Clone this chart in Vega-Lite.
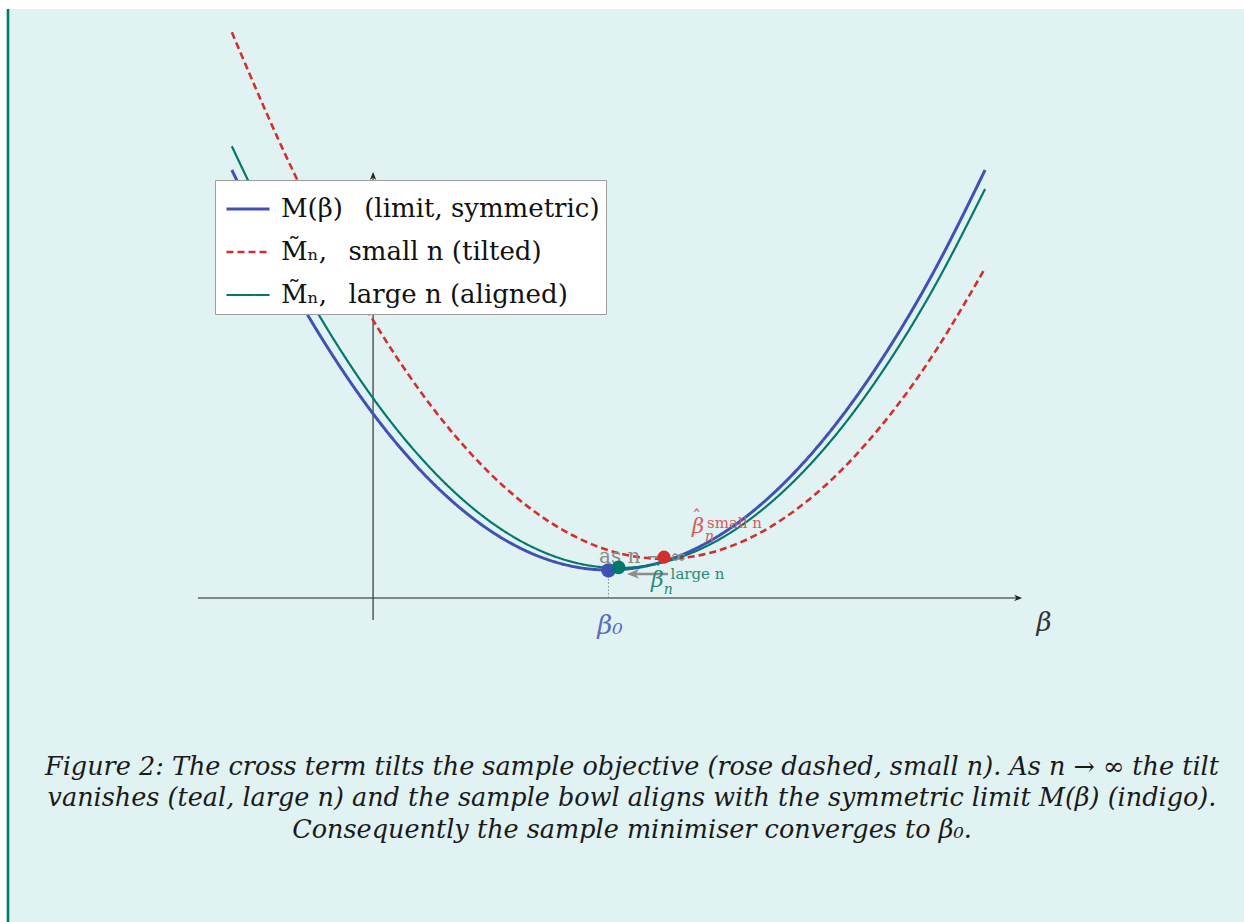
{
  "$schema": "https://vega.github.io/schema/vega-lite/v6.json",
  "width": 1235,
  "height": 913,
  "autosize": {"type": "none"},
  "padding": {"left": 9, "top": 9, "right": 0, "bottom": 0},
  "background": "#ffffff",
  "config": {"view": {"fill": "#e0f2f1", "stroke": null}},
  "datasets": {
    "curves": [
      {"x": -0.9, "y": 2.727, "series": "limit"},
      {"x": -0.6, "y": 2.129, "series": "limit"},
      {"x": -0.3, "y": 1.612, "series": "limit"},
      {"x": 0.0, "y": 1.174, "series": "limit"},
      {"x": 0.3, "y": 0.815, "series": "limit"},
      {"x": 0.6, "y": 0.536, "series": "limit"},
      {"x": 0.9, "y": 0.337, "series": "limit"},
      {"x": 1.2, "y": 0.218, "series": "limit"},
      {"x": 1.5, "y": 0.178, "series": "limit"},
      {"x": 1.8, "y": 0.218, "series": "limit"},
      {"x": 2.1, "y": 0.337, "series": "limit"},
      {"x": 2.4, "y": 0.536, "series": "limit"},
      {"x": 2.7, "y": 0.815, "series": "limit"},
      {"x": 3.0, "y": 1.174, "series": "limit"},
      {"x": 3.3, "y": 1.612, "series": "limit"},
      {"x": 3.6, "y": 2.129, "series": "limit"},
      {"x": 3.9, "y": 2.727, "series": "limit"},
      {"x": -0.9, "y": 3.605, "series": "small"},
      {"x": -0.6, "y": 2.914, "series": "small"},
      {"x": -0.3, "y": 2.302, "series": "small"},
      {"x": 0.0, "y": 1.770, "series": "small"},
      {"x": 0.3, "y": 1.318, "series": "small"},
      {"x": 0.6, "y": 0.945, "series": "small"},
      {"x": 0.9, "y": 0.652, "series": "small"},
      {"x": 1.2, "y": 0.438, "series": "small"},
      {"x": 1.5, "y": 0.304, "series": "small"},
      {"x": 1.8, "y": 0.250, "series": "small"},
      {"x": 2.1, "y": 0.276, "series": "small"},
      {"x": 2.4, "y": 0.381, "series": "small"},
      {"x": 2.7, "y": 0.566, "series": "small"},
      {"x": 3.0, "y": 0.830, "series": "small"},
      {"x": 3.3, "y": 1.174, "series": "small"},
      {"x": 3.6, "y": 1.598, "series": "small"},
      {"x": 3.9, "y": 2.101, "series": "small"},
      {"x": -0.9, "y": 2.878, "series": "large"},
      {"x": -0.6, "y": 2.263, "series": "large"},
      {"x": -0.3, "y": 1.728, "series": "large"},
      {"x": 0.0, "y": 1.273, "series": "large"},
      {"x": 0.3, "y": 0.898, "series": "large"},
      {"x": 0.6, "y": 0.602, "series": "large"},
      {"x": 0.9, "y": 0.386, "series": "large"},
      {"x": 1.2, "y": 0.250, "series": "large"},
      {"x": 1.5, "y": 0.193, "series": "large"},
      {"x": 1.8, "y": 0.216, "series": "large"},
      {"x": 2.1, "y": 0.318, "series": "large"},
      {"x": 2.4, "y": 0.500, "series": "large"},
      {"x": 2.7, "y": 0.762, "series": "large"},
      {"x": 3.0, "y": 1.103, "series": "large"},
      {"x": 3.3, "y": 1.525, "series": "large"},
      {"x": 3.6, "y": 2.025, "series": "large"},
      {"x": 3.9, "y": 2.606, "series": "large"}
    ],
    "minimisers": [
      {"x": 1.5, "y": 0.175, "series": "limit"},
      {"x": 1.564, "y": 0.195, "series": "large"},
      {"x": 1.854, "y": 0.26, "series": "small"}
    ]
  },
  "encoding": {
    "x": {"field": "x", "type": "quantitative", "scale": {"domain": [-2.32, 5.55], "nice": false, "zero": false}, "axis": null},
    "y": {"field": "y", "type": "quantitative", "scale": {"domain": [-2.065, 3.753], "nice": false, "zero": false}, "axis": null}
  },
  "layer": [
    {
      "data": {"values": [{"x": -2.3265, "y": -2.065, "y2": 3.753}]},
      "mark": {"type": "rule", "color": "#00796b", "strokeWidth": 2.6},
      "encoding": {"y2": {"field": "y2"}}
    },
    {
      "data": {"values": [{"x": -1.116, "x2": 4.11, "y": 0}]},
      "mark": {"type": "rule", "color": "#5a6666", "strokeWidth": 1.6},
      "encoding": {"x2": {"field": "x2"}}
    },
    {
      "data": {"values": [{"x": 4.136, "y": 0}]},
      "mark": {"type": "point", "shape": "M0,0L-2,-0.8L-1.4,0L-2,0.8Z", "size": 64, "filled": true, "color": "#222222", "opacity": 1, "strokeWidth": 0},
      "encoding": {}
    },
    {
      "data": {"values": [{"x": 0, "y": -0.14, "y2": 2.70}]},
      "mark": {"type": "rule", "color": "#333333", "strokeWidth": 1.2},
      "encoding": {"y2": {"field": "y2"}}
    },
    {
      "data": {"values": [{"x": 0, "y": 2.715}]},
      "mark": {"type": "point", "shape": "M0,0L-0.8,2L0,1.4L0.8,2Z", "size": 64, "filled": true, "color": "#222222", "opacity": 1, "strokeWidth": 0},
      "encoding": {}
    },
    {
      "data": {"values": [{"x": 1.5, "y": 0, "y2": 0.178}]},
      "mark": {"type": "rule", "color": "#7a8a8a", "strokeWidth": 1, "strokeDash": [1.5, 2]},
      "encoding": {"y2": {"field": "y2"}}
    },
    {
      "data": {"name": "curves"},
      "mark": {"type": "line", "interpolate": "natural"},
      "encoding": {
        "color": {
          "field": "series",
          "type": "nominal",
          "scale": {"domain": ["limit", "small", "large"], "range": ["#3f51b5", "#d32f2f", "#00796b"]},
          "legend": {
            "title": null,
            "orient": "none",
            "legendX": 206,
            "legendY": 171,
            "symbolType": "stroke",
            "symbolSize": 1849,
            "labelFont": "DejaVu Serif",
            "labelFontSize": 26,
            "labelColor": "#111111",
            "labelLimit": 0,
            "labelOffset": 10,
            "fillColor": "#ffffff",
            "strokeColor": "#9e9e9e",
            "padding": 6,
            "symbolOffset": 4,
            "rowPadding": 7,
            "labelExpr": "datum.label == 'limit' ? 'M(β)\u2002 (limit, symmetric)' : datum.label == 'small' ? 'M\u0303ₙ,\u2002 small n (tilted)' : 'M\u0303ₙ,\u2002 large n (aligned)'"
          }
        },
        "strokeDash": {
          "field": "series",
          "type": "nominal",
          "scale": {"domain": ["limit", "small", "large"], "range": [[1, 0], [7, 4], [1, 0]]}
        },
        "strokeWidth": {
          "field": "series",
          "type": "nominal",
          "scale": {"domain": ["limit", "small", "large"], "range": [3, 2.2, 2]}
        }
      }
    },
    {
      "data": {"values": [{"x": 1.44, "y": 0.223, "text": "as n → ∞"}]},
      "mark": {"type": "text", "align": "left", "baseline": "alphabetic", "font": "DejaVu Serif", "fontSize": 20, "color": "#8a8a8a"},
      "encoding": {"text": {"field": "text"}}
    },
    {
      "data": {"values": [{"x": 1.66, "x2": 1.879, "y": 0.153}]},
      "mark": {"type": "rule", "color": "#8c8c8c", "strokeWidth": 2.6},
      "encoding": {"x2": {"field": "x2"}}
    },
    {
      "data": {"values": [{"x": 1.618, "y": 0.153}]},
      "mark": {"type": "point", "shape": "M0,0L2,-0.8L1.4,0L2,0.8Z", "size": 150, "filled": true, "color": "#8c8c8c", "opacity": 1, "strokeWidth": 0},
      "encoding": {}
    },
    {
      "data": {"name": "minimisers"},
      "mark": {"type": "point", "filled": true, "opacity": 1, "strokeWidth": 0},
      "encoding": {
        "fill": {
          "field": "series",
          "type": "nominal",
          "scale": {"domain": ["limit", "large", "small"], "range": ["#3f51b5", "#00796b", "#d32f2f"]},
          "legend": null
        },
        "size": {
          "field": "series",
          "type": "nominal",
          "scale": {"domain": ["limit", "large", "small"], "range": [210, 170, 150]},
          "legend": null
        }
      }
    },
    {
      "data": {"values": [{"x": 1.51, "y": -0.18, "text": "β₀"}]},
      "mark": {"type": "text", "align": "center", "baseline": "middle", "font": "DejaVu Serif", "fontStyle": "italic", "fontSize": 26, "color": "#5c6bc0"},
      "encoding": {"text": {"field": "text"}}
    },
    {
      "data": {"values": [{"x": 4.275, "y": -0.159, "text": "β"}]},
      "mark": {"type": "text", "align": "center", "baseline": "middle", "font": "DejaVu Serif", "fontStyle": "italic", "fontSize": 26, "color": "#333333"},
      "encoding": {"text": {"field": "text"}}
    },
    {
      "data": {"values": [{"x": 2.032, "y": 0.414, "text": "β"}]},
      "mark": {"type": "text", "align": "left", "baseline": "alphabetic", "font": "DejaVu Serif", "fontStyle": "italic", "fontSize": 21, "color": "#dc5757"},
      "encoding": {"text": {"field": "text"}}
    },
    {
      "data": {"values": [{"x": 2.062, "y": 0.47, "text": "ˆ"}]},
      "mark": {"type": "text", "align": "center", "baseline": "alphabetic", "font": "DejaVu Serif", "fontSize": 18, "color": "#dc5757"},
      "encoding": {"text": {"field": "text"}}
    },
    {
      "data": {"values": [{"x": 2.115, "y": 0.363, "text": "n"}]},
      "mark": {"type": "text", "align": "left", "baseline": "alphabetic", "font": "DejaVu Serif", "fontStyle": "italic", "fontSize": 14, "color": "#dc5757"},
      "encoding": {"text": {"field": "text"}}
    },
    {
      "data": {"values": [{"x": 2.128, "y": 0.446, "text": "small n"}]},
      "mark": {"type": "text", "align": "left", "baseline": "alphabetic", "font": "DejaVu Serif", "fontSize": 15, "color": "#dc5757"},
      "encoding": {"text": {"field": "text"}}
    },
    {
      "data": {"values": [{"x": 1.771, "y": 0.07, "text": "β"}]},
      "mark": {"type": "text", "align": "left", "baseline": "alphabetic", "font": "DejaVu Serif", "fontStyle": "italic", "fontSize": 22, "color": "#26897c"},
      "encoding": {"text": {"field": "text"}}
    },
    {
      "data": {"values": [{"x": 1.803, "y": 0.128, "text": "ˆ"}]},
      "mark": {"type": "text", "align": "center", "baseline": "alphabetic", "font": "DejaVu Serif", "fontSize": 18, "color": "#26897c"},
      "encoding": {"text": {"field": "text"}}
    },
    {
      "data": {"values": [{"x": 1.852, "y": 0.025, "text": "n"}]},
      "mark": {"type": "text", "align": "left", "baseline": "alphabetic", "font": "DejaVu Serif", "fontStyle": "italic", "fontSize": 14, "color": "#26897c"},
      "encoding": {"text": {"field": "text"}}
    },
    {
      "data": {"values": [{"x": 1.896, "y": 0.121, "text": "large n"}]},
      "mark": {"type": "text", "align": "left", "baseline": "alphabetic", "font": "DejaVu Serif", "fontSize": 15, "color": "#26897c"},
      "encoding": {"text": {"field": "text"}}
    },
    {
      "data": {"values": [{"x": 1.65, "y": -1.128, "text": ["Figure 2: The cross term tilts the sample objective (rose dashed, small n). As n → ∞ the tilt", "vanishes (teal, large n) and the sample bowl aligns with the symmetric limit M(β) (indigo).", "Consequently the sample minimiser converges to β₀."]}]},
      "mark": {"type": "text", "align": "center", "baseline": "alphabetic", "lineHeight": 31.5, "font": "DejaVu Serif", "fontStyle": "italic", "fontSize": 25.5, "color": "#1a1a1a"},
      "encoding": {"text": {"field": "text"}}
    }
  ]
}
